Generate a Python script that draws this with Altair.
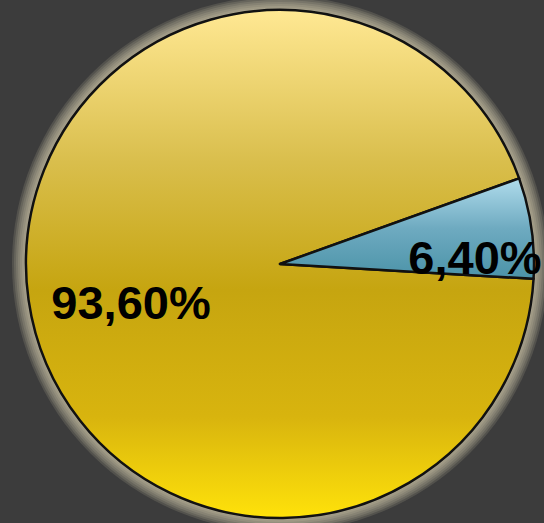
import math
import altair as alt
import pandas as pd

# ---- data ----
categories = ["Categoria 2", "Categoria 1"]
values = [6.4, 93.6]
labels = ["6,40%", "93,60%"]
order = [0, 1]

df = pd.DataFrame({"categoria": categories, "valor": values, "rotulo": labels, "idx": order})

CX, CY, R = 280, 264, 254
start = math.radians(70.3)
theta_scale = alt.Scale(domain=[0, 100], range=[start, start + 2 * math.pi])

base = (
    alt.Chart(df)
    .transform_window(cum="sum(valor)", sort=[alt.SortField("idx")], frame=[None, 0])
    .transform_calculate(ini="datum.cum - datum.valor", mid="datum.cum - datum.valor / 2")
)

yellow_grad = alt.LinearGradient(
    gradient="linear", x1=0, x2=0, y1=0, y2=1,
    stops=[
        alt.GradientStop(offset=0.0, color="#ffe893"),
        alt.GradientStop(offset=0.3, color="#d9be4c"),
        alt.GradientStop(offset=0.55, color="#c6a510"),
        alt.GradientStop(offset=0.8, color="#d8b40e"),
        alt.GradientStop(offset=1.0, color="#ffe20a"),
    ],
)
blue_grad = alt.LinearGradient(
    gradient="linear", x1=0, x2=0, y1=0, y2=1,
    stops=[
        alt.GradientStop(offset=0.0, color="#b0dcec"),
        alt.GradientStop(offset=0.5, color="#6eaac0"),
        alt.GradientStop(offset=1.0, color="#4b93a8"),
    ],
)

# halo (decorative glow)
halo_layers = []
for rr in [268, 266, 264, 262, 260, 258, 256]:
    halo_layers.append(
        base.transform_filter("datum.idx == 0")
        .mark_arc(fill="#e6dfb8", opacity=0.14, stroke=None)
        .encode(
            theta=alt.value(0), theta2=alt.value(2 * math.pi),
            radius=alt.value(rr), x=alt.value(CX), y=alt.value(CY),
        )
    )

def slice_layer(idx, grad):
    return (
        base.transform_filter(f"datum.idx == {idx}")
        .mark_arc(fill=grad, stroke="#111111", strokeWidth=2.5, strokeJoin="round")
        .encode(
            theta=alt.Theta("ini:Q", scale=theta_scale, stack=None),
            theta2="cum:Q",
            radius=alt.value(R),
            x=alt.value(CX), y=alt.value(CY),
            tooltip=["categoria:N", "rotulo:N"],
        )
    )

def text_layer(idx, rad, dy):
    return (
        base.transform_filter(f"datum.idx == {idx}")
        .mark_text(font="Liberation Sans", fontWeight="bold", fontSize=47, color="#000000",
                   radius=rad, dy=dy, align="center", baseline="middle")
        .encode(
            theta=alt.Theta("mid:Q", scale=theta_scale, stack=None),
            text="rotulo:N",
            x=alt.value(CX), y=alt.value(CY),
        )
    )

chart = (
    alt.layer(
        *halo_layers,
        slice_layer(1, yellow_grad),
        slice_layer(0, blue_grad),
        text_layer(0, 197, 24),
        text_layer(1, 150.5, 20),
    )
    .properties(width=544, height=523, background="#3c3c3c", padding=0,
                autosize=alt.AutoSizeParams(type="none"))
    .configure_view(stroke=None)
)

chart.save("out.html", embed_options={"renderer": "svg", "actions": False})
